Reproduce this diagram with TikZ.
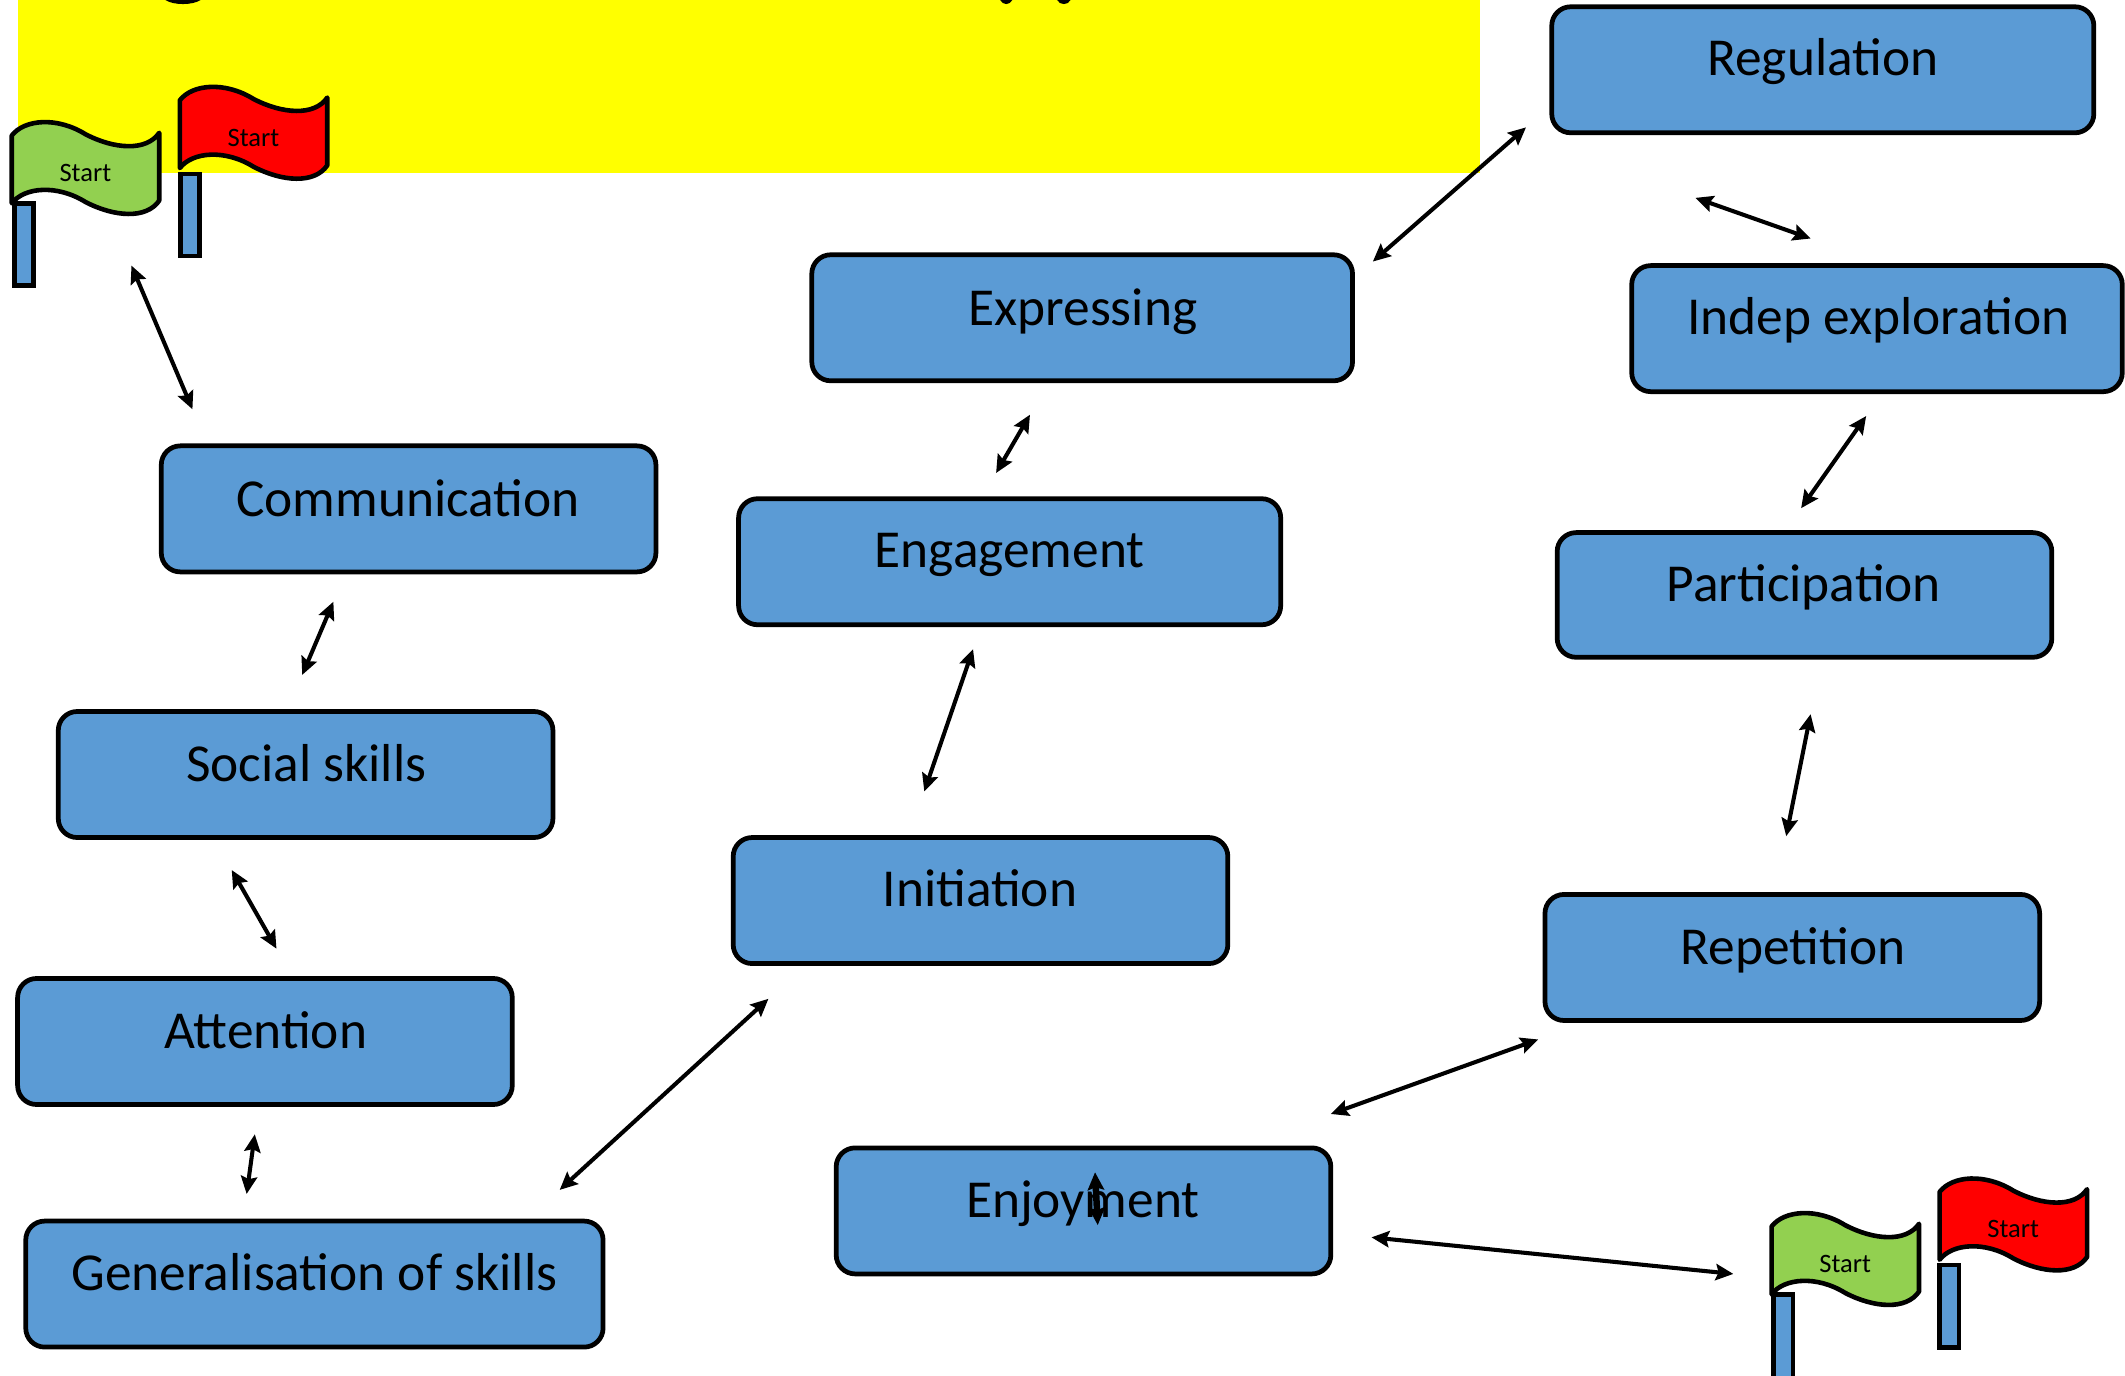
\documentclass[tikz,border=0pt]{standalone}
\usepackage{fontspec}
\setmainfont{Carlito}[Ligatures={Common,TeX}]
\usetikzlibrary{arrows.meta}
\definecolor{boxblue}{RGB}{91,155,213}
\definecolor{flaggreen}{RGB}{146,208,80}
\definecolor{bannery}{RGB}{255,255,0}
\definecolor{flagred}{RGB}{255,0,0}
\tikzset{
  stagebox/.style={draw=black,fill=boxblue,line width=1.75pt,rounded corners=7pt,outer sep=0pt,inner sep=0pt,anchor=north west},
  stagetext/.style={font=\fontsize{19.7}{24}\selectfont,text=black,inner sep=0pt,anchor=base,yshift=-0.5pt},
  link/.style={draw=black,line width=1.5pt,{Stealth[length=6.5pt,width=6pt,inset=1pt]}-{Stealth[length=6.5pt,width=6pt,inset=1pt]}},
  flagcloth/.style={draw=black,line width=1.7pt,line join=round},
  flagpole/.style={draw=black,fill=boxblue,line width=1.7pt,outer sep=0pt,inner sep=0pt,anchor=north west},
  flagtext/.style={font=\fontsize{9.8}{12}\selectfont,text=black,inner sep=0pt},
  banner/.style={fill=bannery,draw=none},
}
\newcommand{\stage}[5]{% name, x0, y0, x1, y1
  \node[stagebox,minimum width={(#4-#2)*0.5pt},minimum height={(#5-#3)*0.5pt}] (#1) at (#2,#3) {};
}
\newcommand{\flag}[7]{% name, x, y, colour, pole length, pole local x, pole local y
  \begin{scope}[shift={(#2,#3)}]
    \draw[flagcloth,fill=#4] (8.7,100) .. controls (18,88) and (42,86) .. (63,99) .. controls (84,110) and (108,112) .. (117.5,98) -- (117.5,148) .. controls (108,162) and (84,160) .. (63,149) .. controls (42,136) and (18,138) .. (8.7,150) -- cycle;
    \node[flagtext] (#1t) at (63,127.5) {Start};
    \node[flagpole,minimum width=7.2pt,minimum height={#5*0.5pt}] (#1p) at (#6,#7) {};
  \end{scope}
}
\begin{document}
\begin{tikzpicture}[x=0.5pt,y=-0.5pt]
\useasboundingbox (0,0) rectangle (1568,1015.3);
\clip (0,0) rectangle (1568,1015.3);
\fill[banner] (13,0) rectangle (1092,127.5);
% cut-off title descenders
\fill[black] (122,0) .. controls (128,4) and (142,4) .. (148,0) -- cycle;
\fill[black] (738,0) .. controls (740,4) and (745,4) .. (747,0) -- cycle;
\fill[black] (780,0) .. controls (782,4) and (788,4) .. (790,0) -- cycle;
% flags
\flag{fa}{0}{0}{flaggreen}{60.5}{10.5}{150}
\flag{fb}{124}{-26}{flagred}{60.5}{9}{154.5}
\flag{fc}{1298.5}{805}{flaggreen}{70}{10}{150}
\flag{fd}{1422.5}{779.5}{flagred}{61}{8.5}{154}
% boxes
\stage{reg}{1145}{5}{1545}{98}
\stage{exp}{599}{188}{998}{281}
\stage{ind}{1204}{196}{1566}{289}
\stage{com}{119}{329}{484}{422}
\stage{eng}{545}{368}{945}{461}
\stage{par}{1149}{393}{1514}{485}
\stage{soc}{43}{525}{408}{618}
\stage{ini}{541}{618}{906}{711}
\stage{rep}{1140}{660}{1505}{753}
\stage{att}{13}{722}{378}{815}
\stage{gen}{19}{901}{445}{994}
\stage{enj}{617}{847}{982}{940}
% labels
\node[stagetext] (regt) at (1345,55) {Regulation};
\node[stagetext] (expt) at (799,239) {Expressing};
\node[stagetext] (indt) at (1386,246) {Indep exploration};
\node[stagetext] (comt) at (301,380) {Communication};
\node[stagetext] (engt) at (745,418) {Engagement};
\node[stagetext] (part) at (1331,443) {Participation};
\node[stagetext] (soct) at (226,576) {Social skills};
\node[stagetext] (init) at (723,668) {Initiation};
\node[stagetext] (rept) at (1323,711) {Repetition};
\node[stagetext] (attt) at (196,773) {Attention};
\node[stagetext] (gent) at (232,951) {Generalisation of skills};
\node[stagetext] (enjt) at (799,897) {Enjoyment};
% connector ends
\coordinate (a1) at (1126,94);  \coordinate (a2) at (1013,193);
\coordinate (b1) at (1251,146); \coordinate (b2) at (1336,176);
\coordinate (c1) at (760,306);  \coordinate (c2) at (735,349);
\coordinate (d1) at (1377,307); \coordinate (d2) at (1329,375);
\coordinate (e1) at (718,479);  \coordinate (e2) at (682,584);
\coordinate (f1) at (1336,527); \coordinate (f2) at (1318,617);
\coordinate (g1) at (246,444);  \coordinate (g2) at (223,498);
\coordinate (h1) at (171,642);  \coordinate (h2) at (204,700);
\coordinate (i1) at (97,196);   \coordinate (i2) at (142,302);
\coordinate (j1) at (188,837);  \coordinate (j2) at (182,881);
\coordinate (k1) at (567,737);  \coordinate (k2) at (413,878);
\coordinate (l1) at (1135,767); \coordinate (l2) at (982,822);
\coordinate (m1) at (1012,913); \coordinate (m2) at (1279,940);
\coordinate (n1) at (808,865);  \coordinate (n2) at (810,904);
\foreach \p in {a,b,c,d,e,f,g,h,i,j,k,l,m}{\draw[link] (\p1) -- (\p2);}
\draw[link,line width=2.4pt] (n1) -- (n2);
\end{tikzpicture}
\end{document}
